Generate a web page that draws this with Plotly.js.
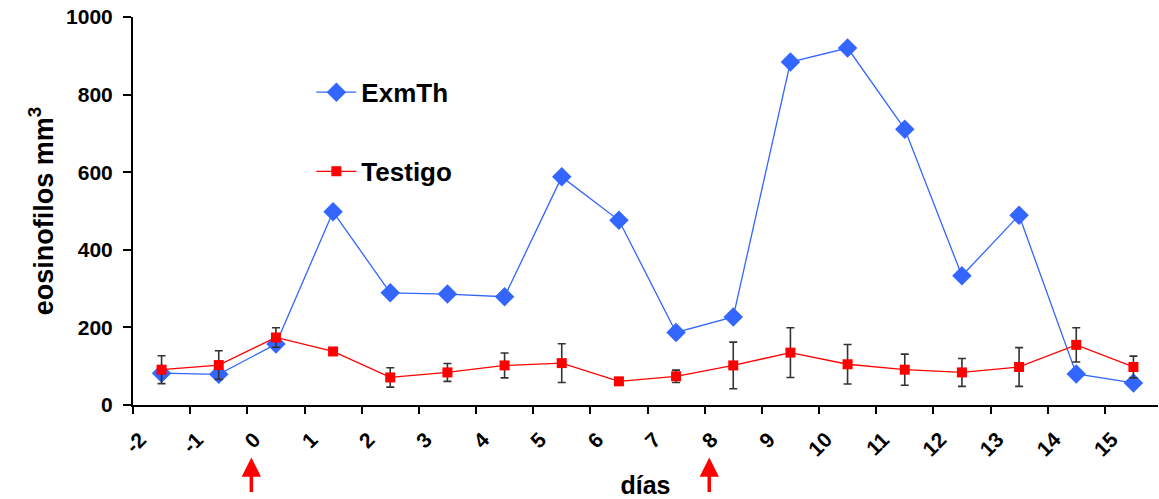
<!DOCTYPE html>
<html>
<head>
<meta charset="utf-8">
<script src="https://cdn.plot.ly/plotly-3.0.1.min.js"></script>
<style>html,body{margin:0;padding:0;background:#fff;}#chart{width:1159px;height:499px;}</style>
</head>
<body>
<div id="chart"></div>
<script>
const days = [-1.5, -0.5, 0.5, 1.5, 2.5, 3.5, 4.5, 5.5, 6.5, 7.5, 8.5, 9.5, 10.5, 11.5, 12.5, 13.5, 14.5, 15.5];
const exmth = [82, 79, 157, 498, 289, 286, 279, 588, 476, 187, 227, 884, 920, 711, 333, 489, 80, 57];
const testigo = [91, 103, 174, 138, 71, 84, 102, 108, 61, 74, 102, 135, 105, 91, 84, 98, 155, 98];
const testigoErr = [36, 37, 25, 8, 25, 23, 32, 50, 0, 16, 60, 64, 51, 40, 36, 50, 44, 28];
const tickVals = [-2, -1, 0, 1, 2, 3, 4, 5, 6, 7, 8, 9, 10, 11, 12, 13, 14, 15];
const tickText = tickVals.map(String);
const arrowDays = [0.07, 8.08];

const FONT = 'Liberation Sans, Arial, sans-serif';

const traces = [
  {
    x: days, y: exmth, name: 'ExmTh', type: 'scatter', mode: 'lines+markers',
    line: {color: '#3366ff', width: 1.3},
    marker: {symbol: 'diamond', size: 15, color: '#3366ff'},
    legend: 'legend'
  },
  {
    x: days, y: testigo, name: 'Testigo', type: 'scatter', mode: 'lines+markers',
    line: {color: '#ff0000', width: 1.3},
    marker: {symbol: 'square', size: 10, color: '#ff0000'},
    error_y: {type: 'data', array: testigoErr, visible: true, color: '#333333', thickness: 1.6, width: 4},
    legend: 'legend2'
  }
];

const annotations = arrowDays.map(d => ({
  x: d, xref: 'x', y: -0.135, yref: 'paper', text: '', showarrow: true,
  ax: 0, ay: 36, arrowcolor: '#ff0000', arrowwidth: 3.5, arrowhead: 2, arrowsize: 1.1, standoff: 0
}));

const legendStyle = {
  font: {family: FONT, size: 26, color: '#000', weight: 'bold'},
  bgcolor: 'rgba(0,0,0,0)', xanchor: 'left', yanchor: 'middle', itemwidth: 40
};

const layout = {
  width: 1159, height: 499,
  margin: {l: 133, r: 1, t: 17, b: 94},
  paper_bgcolor: '#fff', plot_bgcolor: '#fff',
  font: {family: FONT, color: '#000'},
  showlegend: true,
  legend: Object.assign({x: 0.174, y: 0.806}, legendStyle),
  legend2: Object.assign({x: 0.174, y: 0.602}, legendStyle),
  xaxis: {
    range: [-2, 15.93], tickvals: tickVals, ticktext: tickText, tickangle: -45,
    ticks: 'outside', ticklen: 7, tickwidth: 2, tickcolor: '#000',
    ticklabelstandoff: 5, ticklabelshift: 7,
    showline: true, linecolor: '#000', linewidth: 2, showgrid: false, zeroline: false,
    tickfont: {family: FONT, size: 21, color: '#000', weight: 'bold'},
    title: {text: 'días', font: {family: FONT, size: 25, color: '#000', weight: 'bold'}, standoff: 21}
  },
  yaxis: {
    range: [0, 1000], tickvals: [0, 200, 400, 600, 800, 1000],
    ticks: 'outside', ticklen: 8, tickwidth: 2, tickcolor: '#000',
    ticklabelstandoff: 6,
    showline: true, linecolor: '#000', linewidth: 2, showgrid: false, zeroline: false,
    tickfont: {family: FONT, size: 21, color: '#000', weight: 'bold'},
    title: {text: 'eosinofilos mm<sup>3</sup>', font: {family: FONT, size: 27, color: '#000', weight: 'bold'}, standoff: 5}
  },
  annotations: annotations
};

Plotly.newPlot('chart', traces, layout, {displayModeBar: false, staticPlot: true});
</script>
</body>
</html>
